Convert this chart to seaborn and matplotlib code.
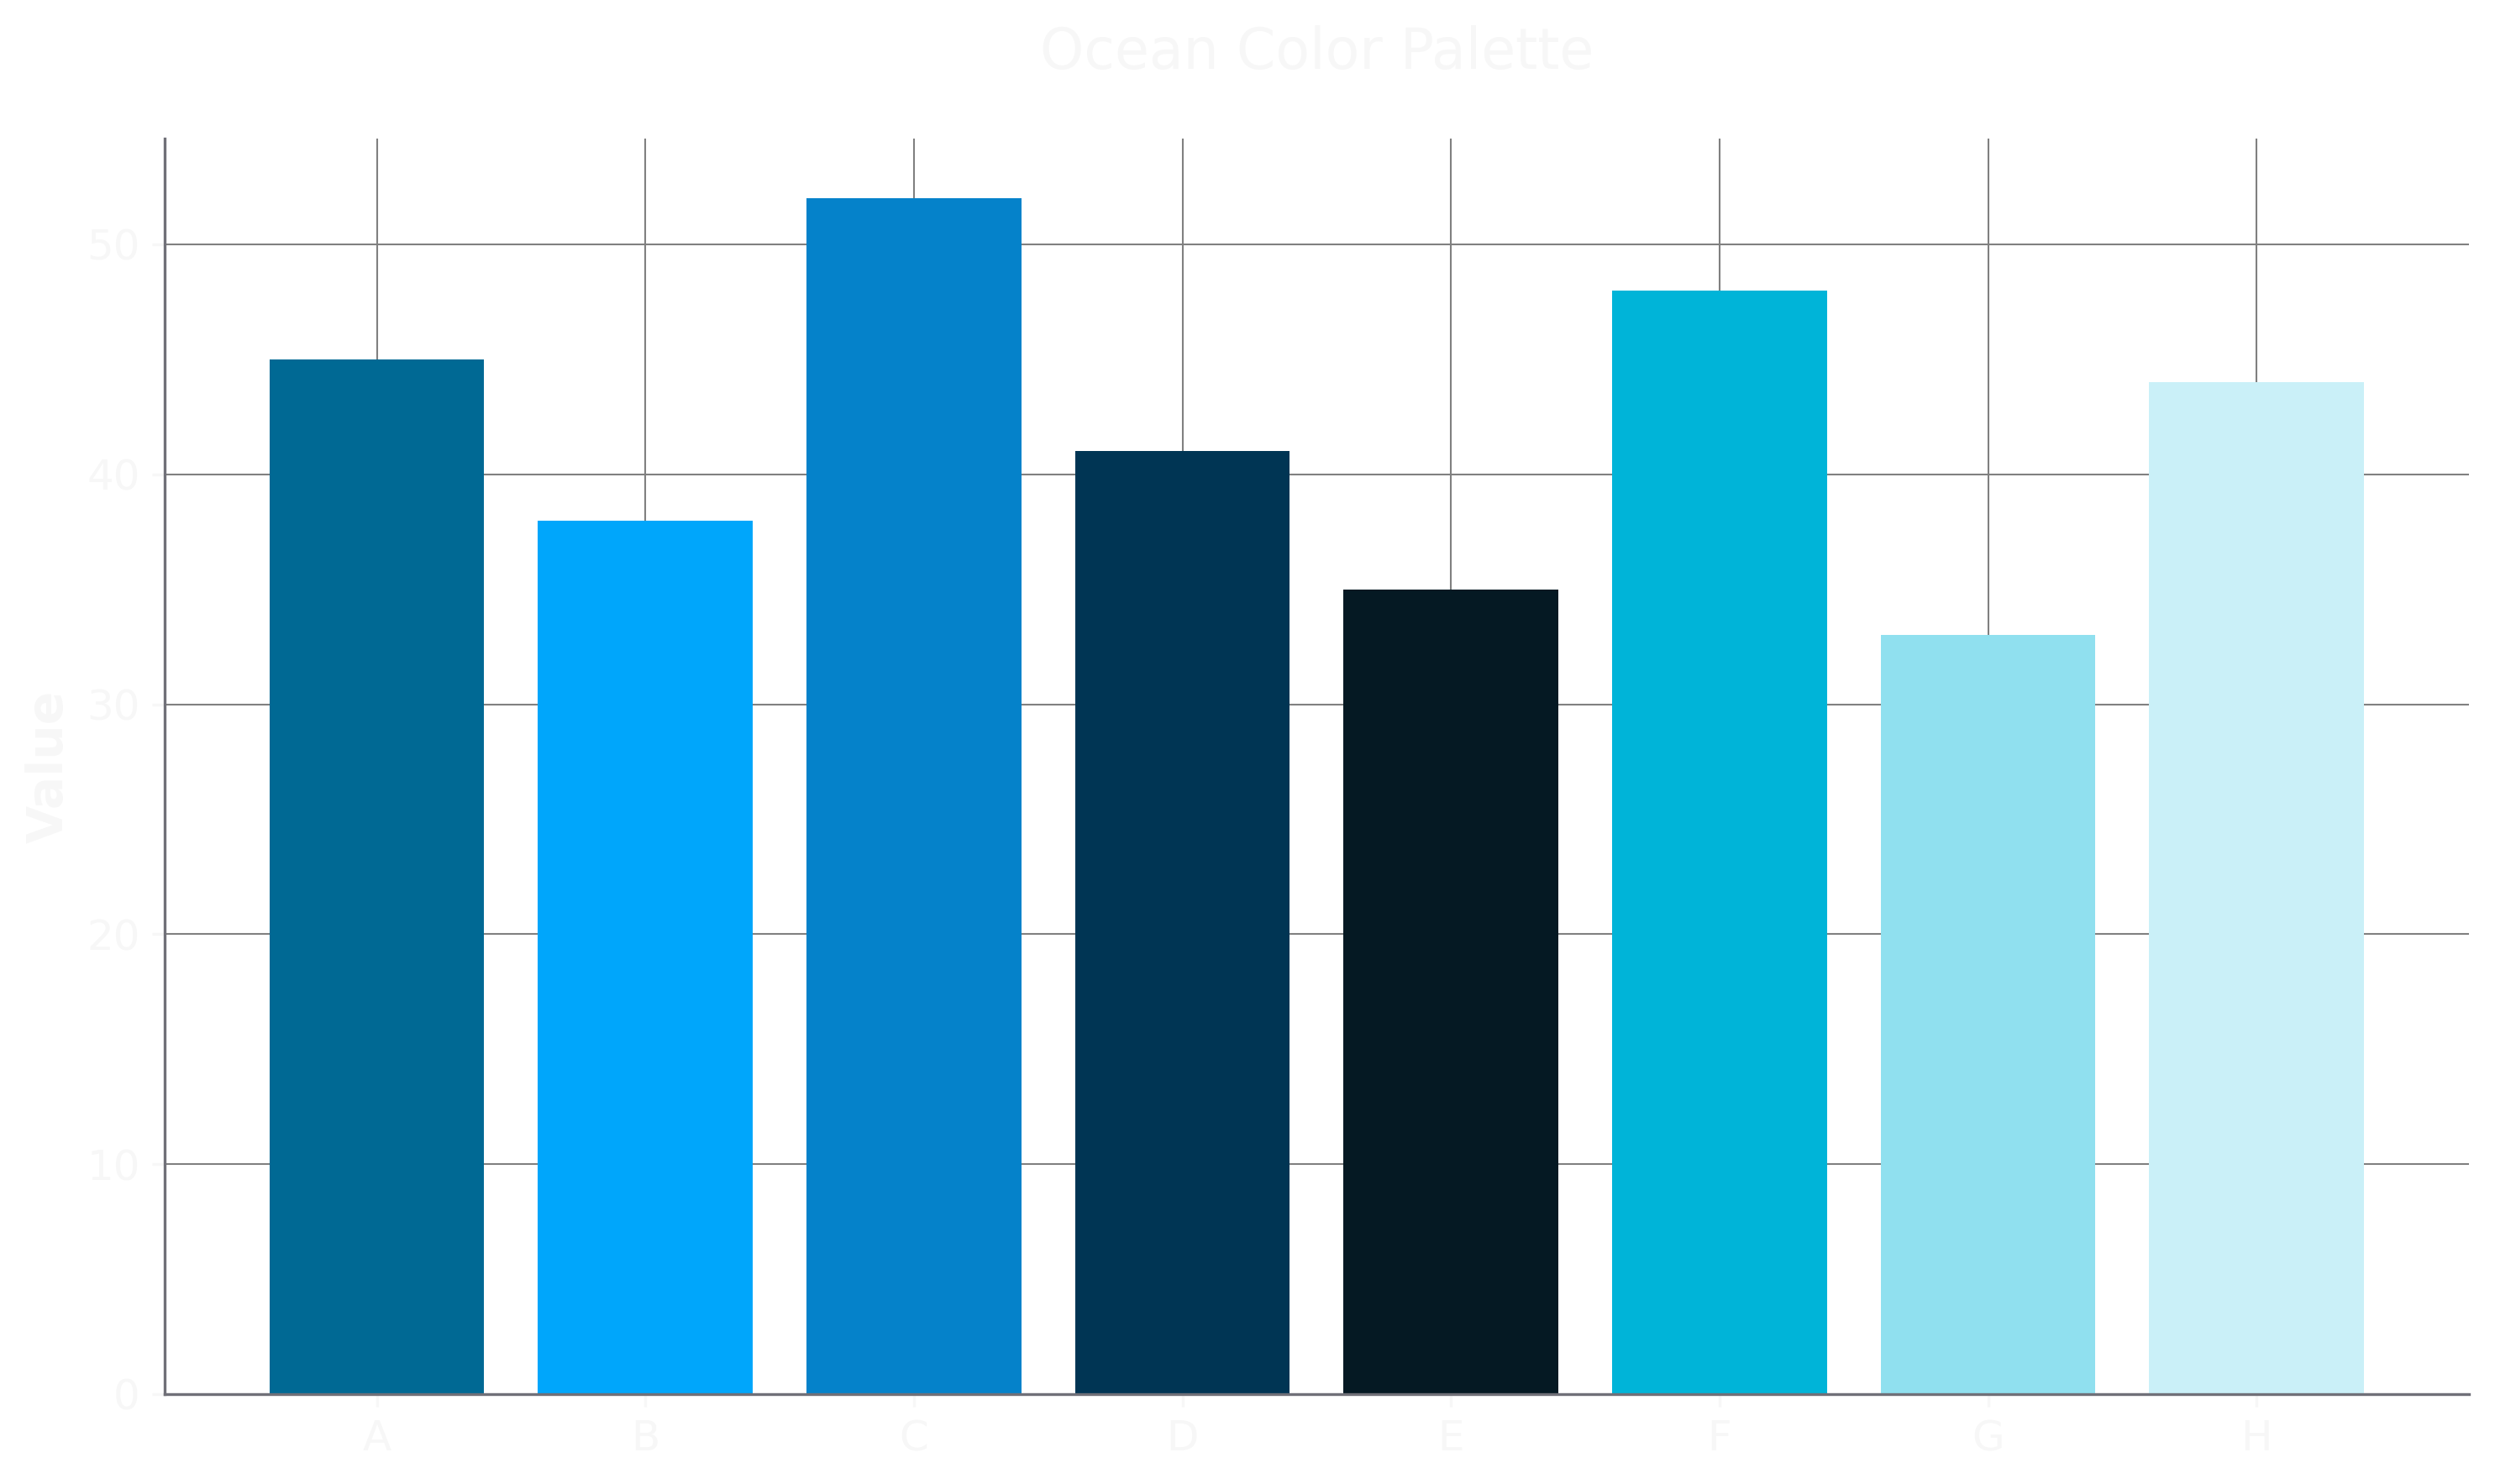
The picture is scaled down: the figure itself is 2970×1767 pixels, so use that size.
import matplotlib
matplotlib.use('Agg')
import matplotlib.pyplot as plt
import pandas as pd
import seaborn as sns

# chart data
categories = ['A', 'B', 'C', 'D', 'E', 'F', 'G', 'H']
values = [45, 38, 52, 41, 35, 48, 33, 44]
colors = ['#006994', '#00A6FB', '#0582CA', '#003554',
          '#051923', '#00B4D8', '#90E0EF', '#CAF0F8']

text_color = '#f7f7f7'

sns.set_theme(style="whitegrid", rc={
    'axes.edgecolor': '#707078',
    'axes.linewidth': 0.8,
    'grid.color': '#808080',
    'grid.linewidth': 0.5,
    'xtick.bottom': True,
    'ytick.left': True,
    'xtick.color': text_color,
    'ytick.color': text_color,
    'xtick.labelsize': 12,
    'ytick.labelsize': 12,
    'xtick.major.size': 3.5,
    'ytick.major.size': 3.5,
    'xtick.major.width': 0.8,
    'ytick.major.width': 0.8,
})
plt.rcParams['font.family'] = ['DejaVu Sans']

df = pd.DataFrame({'category': categories, 'value': values})

fig, ax = plt.subplots(figsize=(9.9, 5.89), dpi=300)
fig.subplots_adjust(left=0.066, right=0.9895, top=0.9066, bottom=0.0606)

sns.barplot(data=df, x='category', y='value', hue='category',
            palette=colors, saturation=1, width=0.8, legend=False,
            linewidth=0, ax=ax)

ax.set_axisbelow(True)
ax.grid(True, axis='both')
ax.set_xlim(-0.79, 7.79)
ax.set_ylim(0, 54.6)
sns.despine(ax=ax, top=True, right=True)

ax.set_title('Ocean Color Palette', fontsize=16, color=text_color, pad=20)
ax.set_xlabel('')
ax.set_ylabel('Value', fontsize=14, fontweight='bold', color=text_color)

fig.savefig('out.png', dpi=300, facecolor='white')
